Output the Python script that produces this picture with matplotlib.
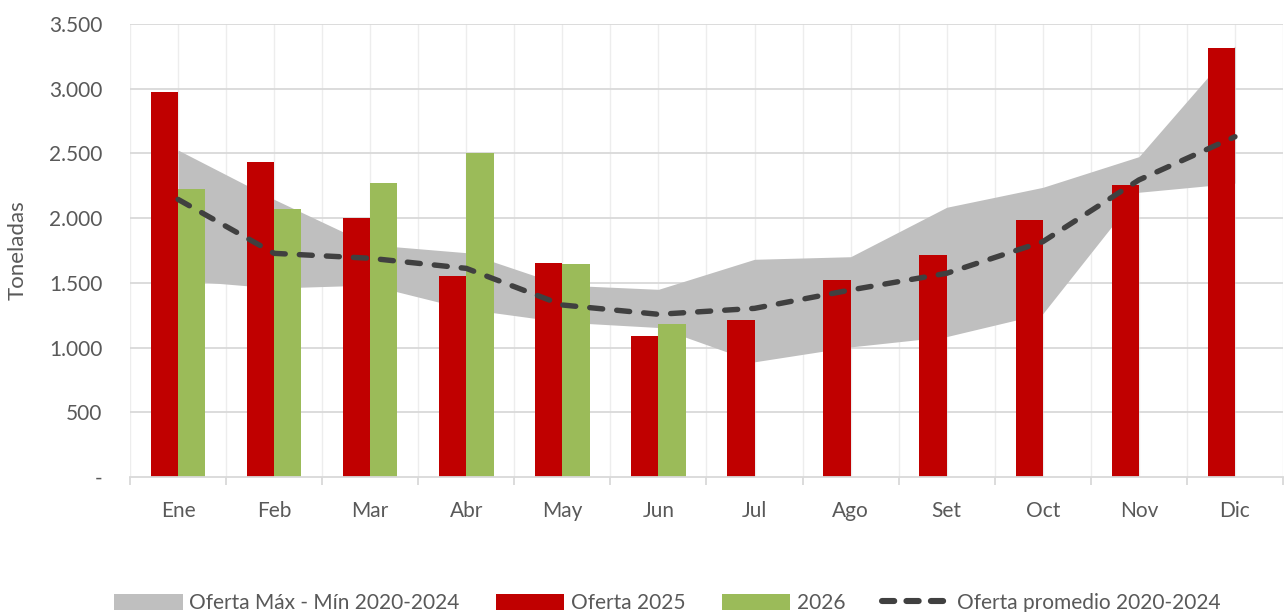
import matplotlib
matplotlib.use("Agg")
import matplotlib.pyplot as plt
from matplotlib.patches import Patch
from matplotlib.lines import Line2D
import numpy as np

months = ["Ene", "Feb", "Mar", "Abr", "May", "Jun", "Jul", "Ago", "Set", "Oct", "Nov", "Dic"]
oferta_2025 = [2975, 2431, 1998, 1553, 1651, 1092, 1213, 1525, 1715, 1988, 2254, 3315]
oferta_2026 = [2223, 2068, 2271, 2501, 1646, 1182]
promedio = [2145, 1728, 1690, 1612, 1329, 1257, 1303, 1445, 1574, 1818, 2295, 2629]
banda_max = [2526, 2145, 1795, 1733, 1483, 1450, 1682, 1702, 2084, 2238, 2475, 3330]
banda_min = [1522, 1460, 1483, 1298, 1197, 1155, 890, 1005, 1085, 1262, 2200, 2270]
yticks = [0, 500, 1000, 1500, 2000, 2500, 3000, 3500]
ytick_labels = ["-", "500", "1.000", "1.500", "2.000", "2.500", "3.000", "3.500"]

plt.rcParams['font.family'] = ['Lato', 'DejaVu Sans']
txt = "#595959"

fig = plt.figure(figsize=(12.87, 6.12), dpi=100)
ax = fig.add_axes([130/1287, 1-477/612, (1283-130)/1287, (477-24)/612])

x = np.arange(len(months))
w = 0.284

ax.fill_between(x, banda_min, banda_max, color="#BFBFBF", linewidth=0, zorder=2)
ax.bar(x, oferta_2025, width=-w, align='edge', color="#C00000", zorder=3)
ax.bar(x[:len(oferta_2026)], oferta_2026, width=w, align='edge', color="#9BBB59", zorder=3)
ax.plot(x, promedio, color="#404040", linewidth=3.9, dashes=(2.4, 2.6),
        dash_capstyle='round', zorder=4)

ax.set_xlim(-0.5, 11.5)
ax.set_ylim(0, 3500)

# grid
for gx in np.arange(-0.5, 11.51, 0.5):
    ax.axvline(gx, color="#EDEDED", linewidth=1.0, zorder=0)
for gy in yticks[1:]:
    ax.axhline(gy, color="#D9D9D9", linewidth=1.3, zorder=1)

for s in ["top", "right", "left"]:
    ax.spines[s].set_visible(False)
ax.spines["bottom"].set_color("#D9D9D9")
ax.spines["bottom"].set_linewidth(1.3)
ax.spines["bottom"].set_zorder(5)

ax.set_yticks(yticks)
ax.set_yticklabels(ytick_labels, fontsize=15, color=txt)
ax.tick_params(axis='y', length=0, pad=20)

ax.set_xticks(np.arange(-0.5, 11.51, 1.0))
ax.set_xticklabels([])
ax.tick_params(axis='x', which='major', length=6, width=1.3, color="#D9D9D9")
ax.set_xticks(x, minor=True)
ax.set_xticklabels(months, minor=True, fontsize=15, color=txt)
ax.tick_params(axis='x', which='minor', length=0, pad=17)

ax.set_ylabel("Toneladas", fontsize=16, color=txt, labelpad=15)

handles = [
    Patch(facecolor="#BFBFBF", edgecolor="none"),
    Patch(facecolor="#C00000", edgecolor="none"),
    Patch(facecolor="#9BBB59", edgecolor="none"),
    Line2D([0], [0], color="#404040", linewidth=4.4, dashes=(2.0, 2.0), dash_capstyle='round'),
]
labels = ["Oferta Máx - Mín 2020-2024", "Oferta 2025", "2026", "Oferta promedio 2020-2024"]
leg = fig.legend(handles, labels, loc='center', bbox_to_anchor=(667/1287, 1-603/612),
                 ncol=4, frameon=False, fontsize=15, handlelength=3.3, handleheight=0.8,
                 handletextpad=0.3, columnspacing=1.75, labelcolor=txt)

fig.savefig("out.png", dpi=100)
